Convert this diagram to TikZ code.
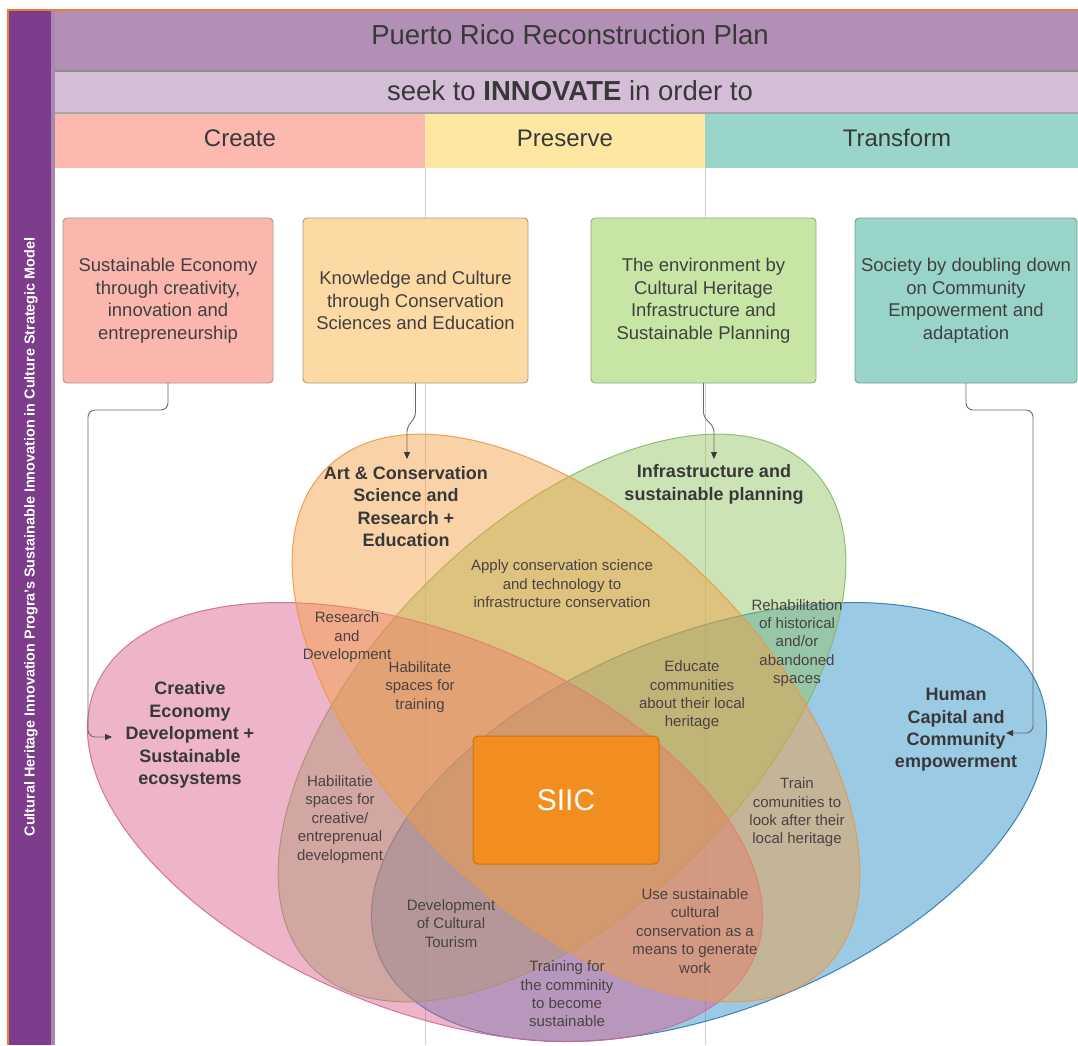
\documentclass[tikz,border=0pt]{standalone}
\usepackage{fontspec}
\setmainfont{Liberation Sans}
\usetikzlibrary{arrows.meta}
\definecolor{framec}{HTML}{F07A3A}
\definecolor{barc}{HTML}{7E3D8C}
\definecolor{barlight}{HTML}{A987B0}
\definecolor{bandA}{HTML}{B290B6}
\definecolor{bandB}{HTML}{D3BDD7}
\definecolor{createc}{HTML}{FDB9AF}
\definecolor{preservec}{HTML}{FDE7A3}
\definecolor{transformc}{HTML}{9AD5CA}
\definecolor{boxAf}{HTML}{FBB6AE}\definecolor{boxAd}{HTML}{B8908C}
\definecolor{boxBf}{HTML}{FDD9A3}\definecolor{boxBd}{HTML}{A89A85}
\definecolor{boxCf}{HTML}{C7E6A6}\definecolor{boxCd}{HTML}{8FA880}
\definecolor{boxDf}{HTML}{99D4C8}\definecolor{boxDd}{HTML}{6F9F97}
\definecolor{pinkF}{HTML}{DB5D8B}\definecolor{pinkD}{HTML}{D06A90}
\definecolor{orngF}{HTML}{F69D3E}\definecolor{orngD}{HTML}{E8984A}
\definecolor{grenF}{HTML}{90C55B}\definecolor{grenD}{HTML}{86B868}
\definecolor{blueF}{HTML}{238BC7}\definecolor{blueD}{HTML}{2A78B0}
\definecolor{siicF}{HTML}{F28E1F}\definecolor{siicD}{HTML}{C8701A}
\definecolor{txt}{HTML}{4A4242}
\definecolor{conn}{HTML}{6A6A6A}
\definecolor{tipc}{HTML}{3A3A3A}
\begin{document}
\begin{tikzpicture}[x=1pt,y=-1pt,
  every node/.style={inner sep=0pt, outer sep=0pt},
  hdr/.style={font=\fontsize{27.5}{32}\selectfont, text=black!78},
  colhead/.style={font=\fontsize{24}{28}\selectfont, text=black!78},
  topbox/.style={draw, line width=0.9pt, rounded corners=4pt, minimum height=165pt,
     align=center, font=\fontsize{18.5}{22.5}\selectfont, text=black!75},
  biglabel/.style={align=center, font=\bfseries\fontsize{18}{22.4}\selectfont, text=black!78},
  smalllabel/.style={align=center, font=\fontsize{15}{18.4}\selectfont, text=txt},
  connline/.style={draw=conn, line width=0.9pt, rounded corners=7pt},
  arrowend/.style={-{Triangle[length=7pt,width=6pt,color=tipc]}},
  ellfill/.style={fill opacity=0.45, draw opacity=0.9, line width=1pt}
]
\useasboundingbox (0,0) rectangle (1078,1045);
\fill[white] (0,0) rectangle (1078,1045);
% frame
\draw[framec, line width=2pt] (8,1045) -- (8,10) -- (1078,10);
% left bar
\fill[barc] (9,11) rectangle (51,1045);
\fill[barlight] (51,11) rectangle (55,1045);
\node[rotate=90, text=white, font=\bfseries\fontsize{14.4}{17}\selectfont] (sidetitle) at (31,537)
  {Cultural Heritage Innovation Progra's Sustainable Innovation in Culture Strategic Model};
% header bands
\fill[bandA] (55,11) rectangle (1078,70);
\fill[bandB] (55,72) rectangle (1078,112);
\draw[black!45, line width=1.2pt] (55,71) -- (1078,71);
\draw[black!35, line width=1.2pt] (55,113) -- (1078,113);
\fill[createc] (55,114) rectangle (425,168);
\fill[preservec] (425,114) rectangle (705,168);
\fill[transformc] (705,114) rectangle (1078,168);
\node[hdr] (title) at (570,35) {Puerto Rico Reconstruction Plan};
\node[hdr] (innov) at (570,91) {seek to \textbf{INNOVATE} in order to};
\node[colhead] (create) at (240,138) {Create};
\node[colhead] (preserve) at (565,138) {Preserve};
\node[colhead] (transform) at (897,138) {Transform};
% column dividers
\draw[black!18, line width=0.8pt] (425,168) -- (425,1045);
\draw[black!18, line width=0.8pt] (705,168) -- (705,1045);
% top boxes
\node[topbox, fill=boxAf, draw=boxAd, minimum width=210pt] (b1) at (168,300.5)
  {Sustainable Economy\\through creativity,\\innovation and\\entrepreneurship};
\node[topbox, fill=boxBf, draw=boxBd, minimum width=225pt] (b2) at (415.5,300.5)
  {Knowledge and Culture\\through Conservation\\Sciences and Education};
\node[topbox, fill=boxCf, draw=boxCd, minimum width=225pt] (b3) at (703.5,300.5)
  {The environment by\\Cultural Heritage\\Infrastructure and\\Sustainable Planning};
\node[topbox, fill=boxDf, draw=boxDd, minimum width=222pt] (b4) at (966,300.5)
  {Society by doubling down\\on Community\\Empowerment and\\adaptation};
% ellipses (bottom to top: blue, green, pink, orange)
\path[ellfill, fill=blueF, draw=blueD, rotate around={22:(709,822)}] (709,822) ellipse [x radius=356pt, y radius=188pt];
\path[ellfill, fill=grenF, draw=grenD, rotate around={45:(562,718)}] (562,718) ellipse [x radius=353pt, y radius=191pt];
\path[ellfill, fill=pinkF, draw=pinkD, rotate around={-22:(425,822)}] (425,822) ellipse [x radius=356pt, y radius=188pt];
\path[ellfill, fill=orngF, draw=orngD, rotate around={-45:(576,718)}] (576,718) ellipse [x radius=353pt, y radius=191pt];
% SIIC
\node[draw=siicD, fill=siicF, line width=1pt, rounded corners=5pt, minimum width=186pt, minimum height=128pt,
  text=white, font=\fontsize{30}{34}\selectfont] (siic) at (566,800) {SIIC};
% connectors
\coordinate (pinkin) at (112,737);
\coordinate (orngin) at (407,459);
\coordinate (grenin) at (714,459);
\coordinate (bluein) at (1006,733);
\draw[connline, arrowend] (b1.south) -- (168,410) -- (88,410) -- (88,737) -- (pinkin);
\draw[connline, arrowend, rounded corners=5pt] (b2.south) -- (415.5,417) -- (407,427) -- (orngin);
\draw[connline, arrowend, rounded corners=5pt] (b3.south) -- (703.5,417) -- (714,427) -- (grenin);
\draw[connline, arrowend] (b4.south) -- (966,410) -- (1033,410) -- (1033,733) -- (bluein);
% big labels
\node[biglabel] (artcons) at (406,506.5) {Art \& Conservation\\Science and\\Research +\\Education};
\node[biglabel] (infra) at (714,484.5) {Infrastructure and\\sustainable planning};
\node[biglabel] (creative) at (190,735) {Creative\\Economy\\Development +\\Sustainable\\ecosystems};
\node[biglabel] (human) at (956,730) {Human\\Capital and\\Community\\empowerment};
% small labels
\node[smalllabel] (apply) at (562,584) {Apply conservation science\\and technology to\\infrastructure conservation};
\node[smalllabel] (resdev) at (347,637.5) {Research\\and\\Development};
\node[smalllabel] (habtrain) at (420,687) {Habilitate\\spaces for\\training};
\node[smalllabel] (educate) at (692,695.5) {Educate\\communities\\about their local\\heritage};
\node[smalllabel] (rehab) at (797,643) {Rehabilitation\\of historical\\and/or\\abandoned\\spaces};
\node[smalllabel] (habcreat) at (340,819.5) {Habilitatie\\spaces for\\creative/\\entreprenual\\development};
\node[smalllabel] (trainc) at (797,812.5) {Train\\comunities to\\look after their\\local heritage};
\node[smalllabel] (tourism) at (451,923.5) {Development\\of Cultural\\Tourism};
\node[smalllabel] (usesust) at (695,931) {Use sustainable\\cultural\\conservation as a\\means to generate\\work};
\node[smalllabel] (trainfor) at (567,994) {Training for\\the comminity\\to become\\sustainable};
\end{tikzpicture}
\end{document}
